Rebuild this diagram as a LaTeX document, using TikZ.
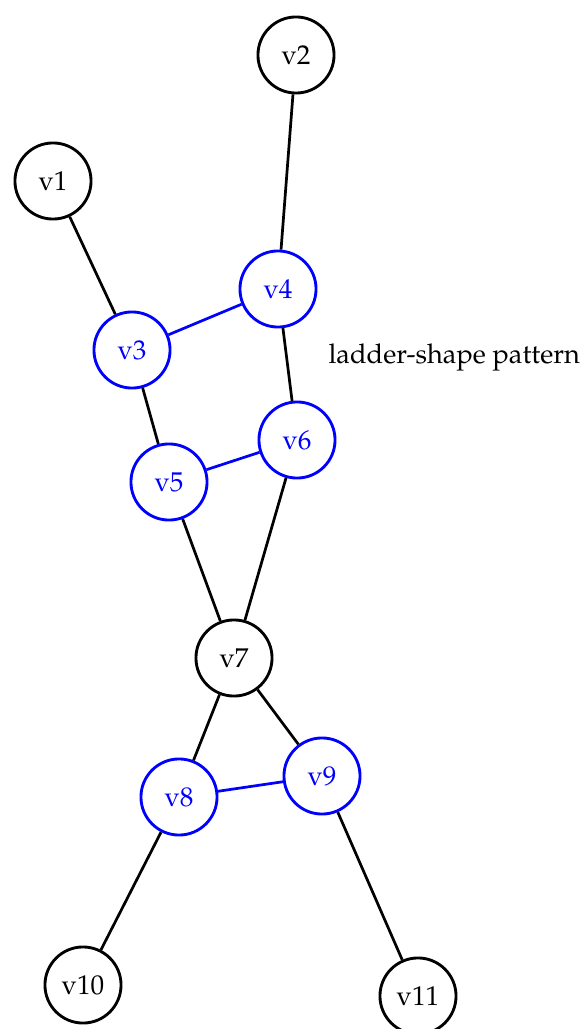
\documentclass[tikz,border=0pt]{standalone}
\usepackage[T1]{fontenc}
\usepackage{mathpazo}
\usepackage{tikz}
\usepackage{xcolor}

\begin{document}
\begin{tikzpicture}[x=0.368pt,y=-0.368pt,font=\normalsize]
\tikzset{vtx/.style={draw,circle,line width=1.05pt,minimum size=28pt,inner sep=0pt},
lad/.style={vtx,draw=blue,text=blue},
edge/.style={line width=1pt},
rung/.style={line width=1pt,draw=blue}}
\useasboundingbox (0,0) rectangle (582,1029);
\node[vtx] (v2) at (296,55) {v2};
\node[vtx] (v1) at (53,181) {v1};
\node[lad] (v4) at (278,289) {v4};
\node[lad] (v3) at (132,350) {v3};
\node[lad] (v6) at (297,440) {v6};
\node[lad] (v5) at (169,482) {v5};
\node[vtx] (v7) at (234,658) {v7};
\node[lad] (v8) at (179,797) {v8};
\node[lad] (v9) at (322,776) {v9};
\node[vtx] (v10) at (83,985) {v10};
\node[vtx] (v11) at (418,996) {v11};
\node[anchor=west,inner sep=0pt] (lbl) at (328,358) {ladder-shape pattern};
\draw[edge] (v2)--(v4);
\draw[edge] (v1)--(v3);
\draw[rung] (v3)--(v4);
\draw[edge] (v4)--(v6);
\draw[edge] (v3)--(v5);
\draw[rung] (v5)--(v6);
\draw[edge] (v5)--(v7);
\draw[edge] (v6)--(v7);
\draw[edge] (v7)--(v8);
\draw[edge] (v7)--(v9);
\draw[rung] (v8)--(v9);
\draw[edge] (v8)--(v10);
\draw[edge] (v9)--(v11);
\end{tikzpicture}
\end{document}
